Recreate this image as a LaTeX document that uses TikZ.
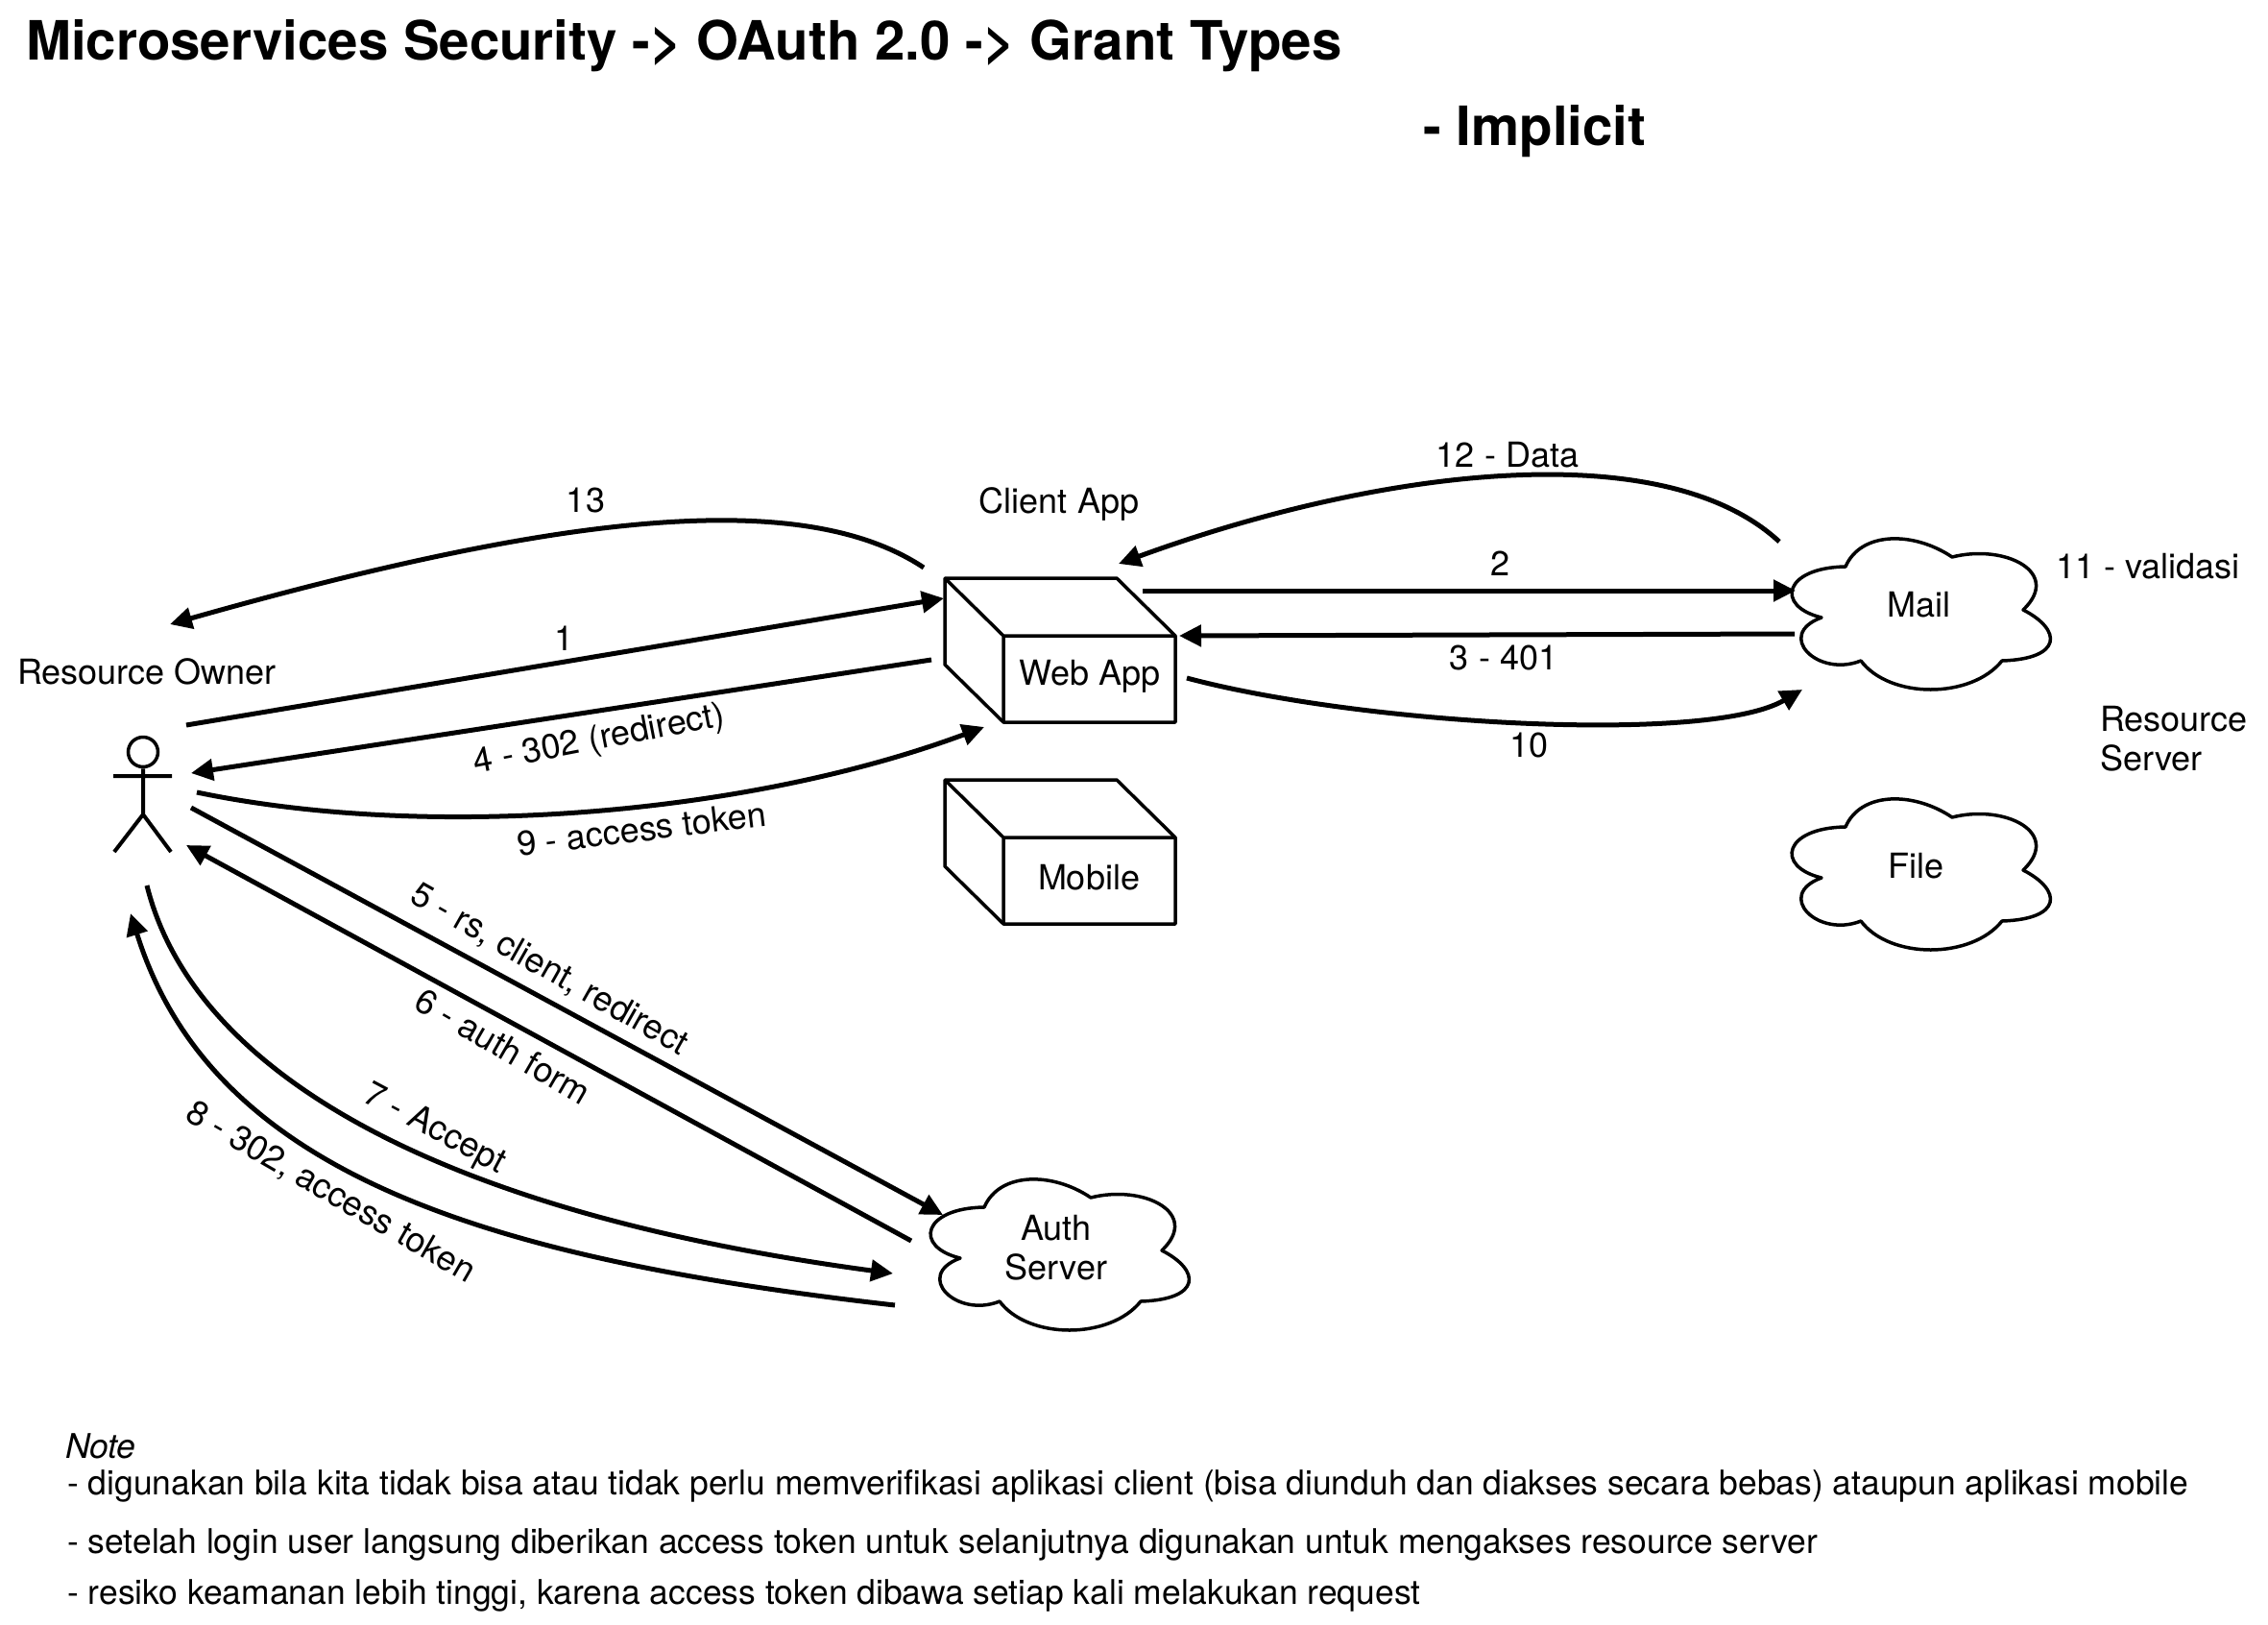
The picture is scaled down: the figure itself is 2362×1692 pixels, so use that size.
\documentclass[tikz,border=0pt]{standalone}
\usepackage{fontspec}
\setmainfont{TeX Gyre Heros}
\usetikzlibrary{arrows.meta}
\tikzset{
  lab/.style={inner sep=0pt,font=\fontsize{36}{41}\selectfont,align=center},
  notetext/.style={inner sep=0pt,anchor=west,font=\fontsize{35.45}{41}\selectfont},
  titletext/.style={inner sep=0pt,anchor=west,font=\fontsize{56.4}{60}\selectfont\bfseries},
  shapeline/.style={draw=black,line width=3.5pt,line join=round},
  conn/.style={draw=black,line width=5pt,-{Triangle[length=23pt,width=22pt]}},
  actorline/.style={draw=black,line width=4pt},
}
\newcommand{\cubeshape}{%
  \path[shapeline] (0,0) -- (179,0) -- (240,60) -- (240,150) -- (61,150) -- (0,90) -- cycle;
  \path[shapeline] (0,0) -- (61,60) -- (240,60) (61,60) -- (61,150);
}
\newcommand{\cloudshape}{%
  \path[shapeline,fill=white] (59,29)
    .. controls (75,-8) and (130,-8) .. (170,19)
    .. controls (225,5) and (285,35) .. (244,74)
    .. controls (285,95) and (285,125) .. (222,127)
    .. controls (190,167) and (105,167) .. (75,127)
    .. controls (30,145) and (-15,100) .. (34,82)
    .. controls (-15,70) and (-5,30) .. (59,29) -- cycle;
}
\begin{document}
\begin{tikzpicture}[x=1pt,y=-1pt]
\useasboundingbox (0,0) rectangle (2362,1692);
\fill[white] (0,0) rectangle (2362,1692);

% titles
\node[titletext] (title) at (27,48) {Microservices Security -\kern0pt> OAuth 2.0 -\kern0pt> Grant Types};
\node[titletext] (implicit) at (1482,137) {- Implicit};

% actor
\node[circle,draw=black,line width=3.5pt,minimum size=31pt,inner sep=0pt] (head) at (149,783) {};
\coordinate (hip) at (149,848);
\coordinate (armL) at (118,808);
\coordinate (armR) at (179,808);
\coordinate (legL) at (119,887);
\coordinate (legR) at (178,887);
\path[actorline] (head.south) -- (hip) -- (legL) (hip) -- (legR) (armL) -- (armR);
\node[lab] (owner) at (153,699) {Resource Owner};

% client boxes
\begin{scope}[shift={(984,602)}]\cubeshape\end{scope}
\begin{scope}[shift={(984,812)}]\cubeshape\end{scope}
\node[lab] (clientapp) at (1103,525) {Client App};
\node[lab] (webapp) at (1135,704) {Web App};
\node[lab] (mobile) at (1134,914) {Mobile};

% clouds
\begin{scope}[shift={(1863,561)}]\cloudshape\end{scope}
\begin{scope}[shift={(1863,832)}]\cloudshape\end{scope}
\begin{scope}[shift={(966,1228)}]\cloudshape\end{scope}
\node[lab] (mail) at (1998,630) {Mail};
\node[lab] (file) at (1995,902) {File};
\node[lab] (auth) at (1100,1299) {Auth\\Server};
\node[lab] (valid) at (2237,590) {11 - validasi};
\node[lab,align=left,anchor=west] (rs) at (2187,769) {Resource\\Server};

% connector end points
\coordinate (a13s) at (962,591);  \coordinate (a13e) at (177,650);
\coordinate (a1s) at (194,755);   \coordinate (a1e) at (983,623);
\coordinate (a4s) at (970,687);   \coordinate (a4e) at (199,805);
\coordinate (a9s) at (205,825);   \coordinate (a9e) at (1025,757);
\coordinate (a5s) at (199,841);   \coordinate (a5e) at (982,1265);
\coordinate (a6s) at (949,1292);  \coordinate (a6e) at (194,880);
\coordinate (a7s) at (153,922);   \coordinate (a7e) at (930,1326);
\coordinate (a8s) at (932,1359);  \coordinate (a8e) at (136,951);
\coordinate (a2s) at (1190,615);  \coordinate (a2e) at (1870,615);
\coordinate (a3s) at (1869,660);  \coordinate (a3e) at (1228,662);
\coordinate (a10s) at (1236,706); \coordinate (a10e) at (1877,718);
\coordinate (a12s) at (1853,564); \coordinate (a12e) at (1165,587);

% connectors
\draw[conn] (a13s) .. controls (840,510) and (600,530) .. (a13e);
\draw[conn] (a1s) -- (a1e);
\draw[conn] (a4s) -- (a4e);
\draw[conn] (a9s) .. controls (450,876) and (780,848) .. (a9e);
\draw[conn] (a5s) -- (a5e);
\draw[conn] (a6s) -- (a6e);
\draw[conn] (a7s) .. controls (200,1110) and (440,1260) .. (a7e);
\draw[conn] (a8s) .. controls (500,1310) and (220,1220) .. (a8e);
\draw[conn] (a2s) -- (a2e);
\draw[conn] (a3s) -- (a3e);
\draw[conn] (a10s) .. controls (1420,755) and (1780,775) .. (a10e);
\draw[conn] (a12s) .. controls (1730,450) and (1430,490) .. (a12e);

% connector labels
\node[lab] (l13) at (610,521) {13};
\node[lab] (l1) at (588,665) {1};
\node[lab,rotate=11] (l4) at (624,771) {4 - 302 (redirect)};
\node[lab,rotate=7] (l9) at (668,863) {9 - access token};
\node[lab,rotate=-29.5] (l5) at (572,1010) {5 - rs, client, redirect};
\node[lab,rotate=-30] (l6) at (524,1089) {6 - auth form};
\node[lab,rotate=-28] (l7) at (452,1176) {7 - Accept};
\node[lab,rotate=-30] (l8) at (344,1242) {8 - 302, access token};
\node[lab] (l12) at (1570,474) {12 - Data};
\node[lab] (l2) at (1562,587) {2};
\node[lab] (l3) at (1566,685) {3 - 401};
\node[lab] (l10) at (1592,776) {10};

% note
\node[notetext] (note) at (68,1506) {\itshape Note};
\node[notetext] (n1) at (70,1547) {- digunakan bila kita tidak bisa atau tidak perlu memverifikasi aplikasi client (bisa diunduh dan diakses secara bebas) ataupun aplikasi mobile};
\node[notetext] (n2) at (70,1608) {- setelah login user langsung diberikan access token untuk selanjutnya digunakan untuk mengakses resource server};
\node[notetext] (n3) at (70,1661) {- resiko keamanan lebih tinggi, karena access token dibawa setiap kali melakukan request};
\end{tikzpicture}
\end{document}
